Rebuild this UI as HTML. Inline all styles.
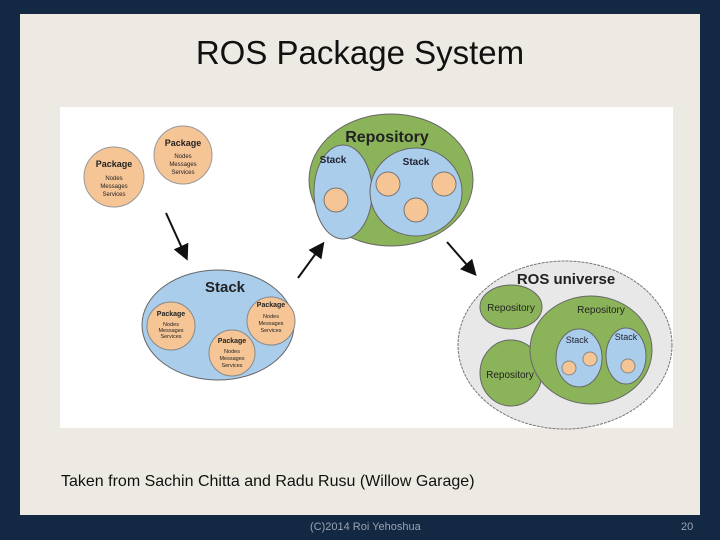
<!DOCTYPE html>
<html><head><style>
body{margin:0;width:720px;height:540px;background:#132843;position:relative;overflow:hidden;font-family:"Liberation Sans",sans-serif}
.panel{position:absolute;left:20px;top:14px;width:680px;height:501px;background:#eceae2}
.title{position:absolute;left:0;width:720px;top:34px;text-align:center;font-size:33px;color:#111}
.cap{position:absolute;left:61px;top:473px;font-size:16px;color:#111}
.foot{position:absolute;top:521px;font-size:11px;color:#9aa3b0}
</style></head><body>
<div class="panel"></div>
<div class="title">ROS Package System</div>
<svg style="position:absolute;left:0;top:0" width="720" height="540" font-family="Liberation Sans, sans-serif">
<rect x="60" y="107" width="613" height="321" fill="#fff"/>
<defs><marker id="a" markerWidth="8" markerHeight="8" refX="6" refY="4" orient="auto"><path d="M0,0L8,4L0,8z" fill="#111"/></marker></defs>
<g stroke="#999" stroke-width="1">
<circle cx="114" cy="177" r="30" fill="#f6c596"/>
<circle cx="183" cy="155" r="29" fill="#f6c596"/>
</g>
<g text-anchor="middle" fill="#222">
<text x="114" y="167" font-size="9" font-weight="bold">Package</text>
<text x="114" y="180" font-size="6">Nodes</text><text x="114" y="188" font-size="6">Messages</text><text x="114" y="196" font-size="6">Services</text>
<text x="183" y="146" font-size="9" font-weight="bold">Package</text>
<text x="183" y="158" font-size="6">Nodes</text><text x="183" y="166" font-size="6">Messages</text><text x="183" y="174" font-size="6">Services</text>
</g>
<g stroke="#111" stroke-width="2" marker-end="url(#a)">
<line x1="166" y1="213" x2="186" y2="257"/>
<line x1="298" y1="278" x2="322" y2="245"/>
<line x1="447" y1="242" x2="474" y2="273"/>
</g>
<ellipse cx="391" cy="180" rx="82" ry="66" fill="#8bb45a" stroke="#666"/>
<ellipse cx="343" cy="192" rx="29" ry="47" fill="#a9cdeb" stroke="#666"/>
<ellipse cx="416" cy="192" rx="46" ry="44" fill="#a9cdeb" stroke="#666"/>
<g fill="#f6c596" stroke="#777"><circle cx="336" cy="200" r="12"/><circle cx="388" cy="184" r="12"/><circle cx="444" cy="184" r="12"/><circle cx="416" cy="210" r="12"/></g>
<text x="387" y="142" font-size="16" font-weight="bold" text-anchor="middle" fill="#222">Repository</text>
<text x="333" y="163" font-size="10" font-weight="bold" text-anchor="middle" fill="#223">Stack</text>
<text x="416" y="165" font-size="10" font-weight="bold" text-anchor="middle" fill="#223">Stack</text>
<ellipse cx="218" cy="325" rx="76" ry="55" fill="#a9cdeb" stroke="#666"/>
<g fill="#f6c596" stroke="#888"><circle cx="171" cy="326" r="24"/><circle cx="271" cy="321" r="24"/><circle cx="232" cy="353" r="23"/></g>
<text x="225" y="292" font-size="15" font-weight="bold" text-anchor="middle" fill="#222">Stack</text>
<g text-anchor="middle" fill="#222">
<text x="171" y="316" font-size="7" font-weight="bold">Package</text><text x="171" y="326" font-size="5.5">Nodes</text><text x="171" y="332" font-size="5.5">Messages</text><text x="171" y="338" font-size="5.5">Services</text>
<text x="271" y="307" font-size="7" font-weight="bold">Package</text><text x="271" y="318" font-size="5.5">Nodes</text><text x="271" y="325" font-size="5.5">Messages</text><text x="271" y="332" font-size="5.5">Services</text>
<text x="232" y="343" font-size="7" font-weight="bold">Package</text><text x="232" y="353" font-size="5.5">Nodes</text><text x="232" y="360" font-size="5.5">Messages</text><text x="232" y="367" font-size="5.5">Services</text>
</g>
<ellipse cx="565" cy="345" rx="107" ry="84" fill="#e8e8e8" stroke="#777" stroke-dasharray="3,1"/>
<ellipse cx="511" cy="307" rx="31" ry="22" fill="#8bb45a" stroke="#666"/>
<ellipse cx="511" cy="373" rx="31" ry="33" fill="#8bb45a" stroke="#666"/>
<ellipse cx="591" cy="350" rx="61" ry="54" fill="#8bb45a" stroke="#666"/>
<ellipse cx="579" cy="358" rx="23" ry="29" fill="#a9cdeb" stroke="#666"/>
<ellipse cx="626" cy="356" rx="20" ry="28" fill="#a9cdeb" stroke="#666"/>
<g fill="#f6c596" stroke="#888"><circle cx="569" cy="368" r="7"/><circle cx="590" cy="359" r="7"/><circle cx="628" cy="366" r="7"/></g>
<g text-anchor="middle" fill="#222">
<text x="566" y="284" font-size="15" font-weight="bold">ROS universe</text>
<text x="511" y="311" font-size="10">Repository</text>
<text x="510" y="378" font-size="10">Repository</text>
<text x="601" y="313" font-size="10">Repository</text>
<text x="577" y="343" font-size="9" fill="#223">Stack</text>
<text x="626" y="340" font-size="9" fill="#223">Stack</text>
</g>
</svg>
<div class="cap">Taken from Sachin Chitta and Radu Rusu (Willow Garage)</div>
<div class="foot" style="left:310px">(C)2014 Roi Yehoshua</div>
<div class="foot" style="left:681px">20</div>
</body></html>
